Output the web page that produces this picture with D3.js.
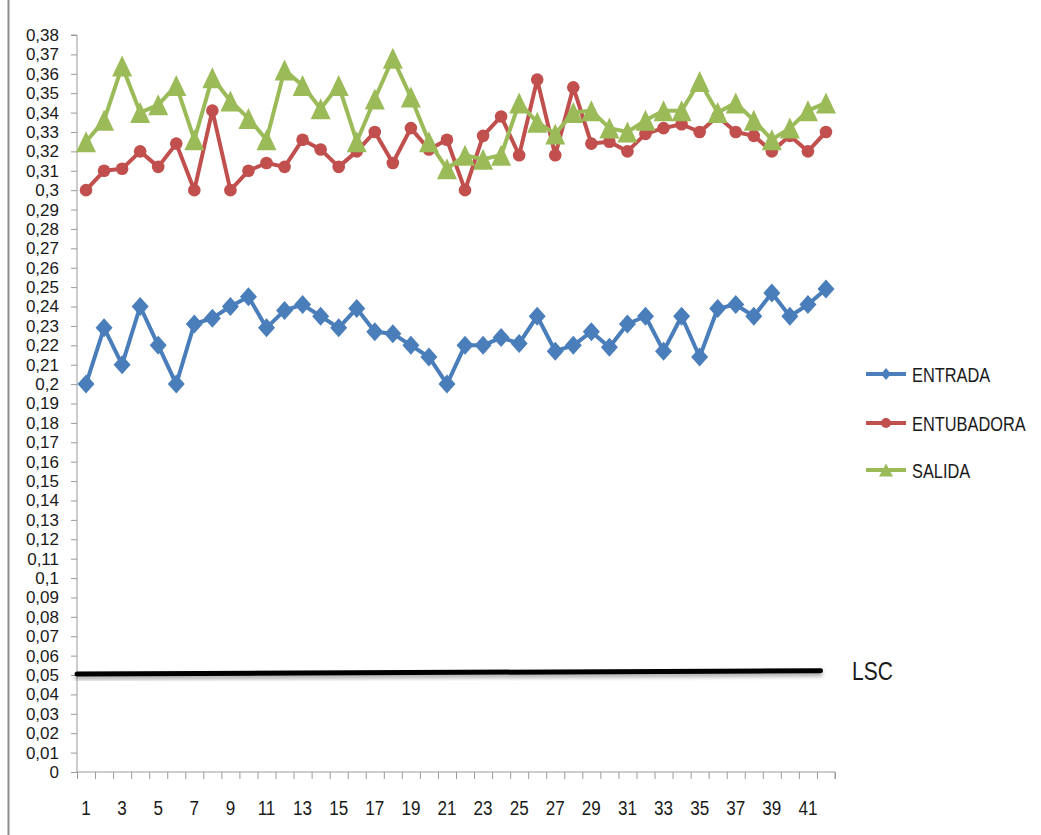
<!DOCTYPE html>
<html>
<head>
<meta charset="utf-8">
<script src="https://cdn.jsdelivr.net/npm/d3@7"></script>
<style>
  html, body { margin: 0; padding: 0; background: #fff; }
  svg { display: block; }
  text { font-family: "Liberation Sans", Arial, sans-serif; fill: #1a1a1a; }
</style>
</head>
<body>
<svg id="chart" width="1041" height="835"></svg>
<script>
// Sample numbers along the x axis
const samples = d3.range(1, 43);

// Measurements per station
const entrada = [0.200, 0.229, 0.210, 0.240, 0.220, 0.200, 0.231, 0.234, 0.240, 0.245,
                 0.229, 0.238, 0.241, 0.235, 0.229, 0.239, 0.227, 0.226, 0.220, 0.214,
                 0.200, 0.220, 0.220, 0.224, 0.221, 0.235, 0.217, 0.220, 0.227, 0.219,
                 0.231, 0.235, 0.217, 0.235, 0.214, 0.239, 0.241, 0.235, 0.247, 0.235,
                 0.241, 0.249];
const entubadora = [0.300, 0.310, 0.311, 0.320, 0.312, 0.324, 0.300, 0.341, 0.300, 0.310,
                    0.314, 0.312, 0.326, 0.321, 0.312, 0.320, 0.330, 0.314, 0.332, 0.321,
                    0.326, 0.300, 0.328, 0.338, 0.318, 0.357, 0.318, 0.353, 0.324, 0.325,
                    0.320, 0.329, 0.332, 0.334, 0.330, 0.338, 0.330, 0.328, 0.320, 0.328,
                    0.320, 0.330];
const salida = [0.325, 0.336, 0.364, 0.340, 0.344, 0.354, 0.326, 0.358, 0.346, 0.337,
                0.326, 0.362, 0.354, 0.342, 0.354, 0.325, 0.347, 0.368, 0.348, 0.325,
                0.311, 0.318, 0.316, 0.318, 0.345, 0.335, 0.329, 0.340, 0.341, 0.332,
                0.330, 0.336, 0.341, 0.341, 0.356, 0.340, 0.345, 0.336, 0.326, 0.332,
                0.341, 0.345];

// Upper control limit (LSC), start and end of the drawn limit line
const lscX = [0.5, 41.7];
const lscY = [0.0505, 0.0522];

// Axis ticks
const yTicks = [0, 0.01, 0.02, 0.03, 0.04, 0.05, 0.06, 0.07, 0.08, 0.09,
                0.1, 0.11, 0.12, 0.13, 0.14, 0.15, 0.16, 0.17, 0.18, 0.19,
                0.2, 0.21, 0.22, 0.23, 0.24, 0.25, 0.26, 0.27, 0.28, 0.29,
                0.3, 0.31, 0.32, 0.33, 0.34, 0.35, 0.36, 0.37, 0.38];
const xLabels = [1, 3, 5, 7, 9, 11, 13, 15, 17, 19, 21, 23, 25, 27, 29, 31, 33, 35, 37, 39, 41];

const seriesNames = ["ENTRADA", "ENTUBADORA", "SALIDA"];
const seriesColors = ["#4a7ebb", "#c0504d", "#9bbb59"];

// Marker shapes: half-width / half-height in px
const diamond = (w, h) => `M0,${-h}L${w},0L0,${h}L${-w},0Z`;
const circle = r => `M${r},0A${r},${r} 0 1,1 ${-r},0A${r},${r} 0 1,1 ${r},0Z`;
const triangle = (w, h) => `M0,${-h}L${w},${h}L${-w},${h}Z`;
const markerPaths = [diamond(8.5, 9.5), circle(6.3), triangle(10, 10.5)];
const legendMarkers = [diamond(5, 6), circle(5), triangle(7, 6.5)];

const svg = d3.select("#chart");

const x = d3.scaleLinear().domain([0.5, 42.5]).range([77, 835]);
const y = d3.scaleLinear().domain([0, 0.38]).range([772, 35]);

const defs = svg.append("defs");
const shadow = defs.append("filter").attr("id", "lscShadow")
  .attr("x", "-5%").attr("y", "-200%").attr("width", "110%").attr("height", "500%");
shadow.append("feGaussianBlur").attr("in", "SourceAlpha").attr("stdDeviation", 2).attr("result", "b");
shadow.append("feOffset").attr("in", "b").attr("dy", 3).attr("result", "o");
shadow.append("feComponentTransfer").attr("in", "o").attr("result", "s")
  .append("feFuncA").attr("type", "linear").attr("slope", 0.35);
const merge = shadow.append("feMerge");
merge.append("feMergeNode").attr("in", "s");
merge.append("feMergeNode").attr("in", "SourceGraphic");

const soft = defs.append("filter").attr("id", "soft");
soft.append("feGaussianBlur").attr("stdDeviation", 0.45);

// Frame on the left side
svg.append("line").attr("x1", 8.5).attr("x2", 8.5).attr("y1", 0).attr("y2", 835)
  .attr("stroke", "#8c8c8c").attr("stroke-width", 2);

// Y axis
const yAxis = svg.append("g").attr("transform", `translate(${x(0.5)},0)`)
  .call(d3.axisLeft(y).tickValues(yTicks).tickSize(6).tickPadding(12)
    .tickFormat(v => String(+v.toFixed(2)).replace(".", ",")));
yAxis.selectAll("text").style("font-size", "17px").attr("fill", "#1a1a1a")
  .style("font-family", "'Liberation Sans', Arial, sans-serif");
yAxis.selectAll("line, path").attr("stroke", "#9a9a9a");
yAxis.select(".domain").attr("d", `M-6,${y(0.38)}H0V${y(0)}`);

// X axis: ticks between categories, labels on odd samples
const xAxis = svg.append("g").attr("transform", `translate(0,${y(0)})`)
  .call(d3.axisBottom(x).tickValues(d3.range(0.5, 43, 1)).tickSize(7).tickFormat(""));
xAxis.selectAll("line, path").attr("stroke", "#9a9a9a");
xAxis.select(".domain").attr("d", `M${x(0.5)},0H${x(42.5)}V7`);

svg.append("g").selectAll("text").data(xLabels).join("text")
  .attr("transform", d => `translate(${x(d)},815) scale(0.9,1.1)`)
  .attr("text-anchor", "middle")
  .style("font-size", "19px")
  .text(d => d);

// LSC line
const lscLine = d3.line().x(d => x(d[0])).y(d => y(d[1]));
svg.append("path")
  .attr("d", lscLine(d3.zip(lscX, lscY)))
  .attr("stroke", "#000").attr("stroke-width", 5).attr("fill", "none")
  .attr("stroke-linecap", "round")
  .attr("filter", "url(#lscShadow)");
svg.append("text")
  .attr("transform", `translate(852,${y(lscY[1]) + 9}) scale(0.84,1)`)
  .style("font-size", "25px").text("LSC");

// Series
const allSeries = [entrada, entubadora, salida];
const line = d3.line().x((d, i) => x(samples[i])).y(d => y(d));
const plot = svg.append("g").attr("filter", "url(#soft)");
allSeries.forEach((vals, k) => {
  const g = plot.append("g");
  g.append("path").attr("d", line(vals))
    .attr("fill", "none").attr("stroke", seriesColors[k]).attr("stroke-width", 4)
    .attr("stroke-linejoin", "round");
  g.selectAll("path.m").data(vals).join("path").attr("class", "m")
    .attr("transform", (d, i) => `translate(${x(samples[i])},${y(d)})`)
    .attr("d", markerPaths[k])
    .attr("fill", seriesColors[k]);
});

// Legend
const legendY = [374, 423, 470];
const legend = svg.append("g");
seriesNames.forEach((name, k) => {
  const g = legend.append("g").attr("transform", `translate(866,${legendY[k]})`);
  g.append("line").attr("x1", 0).attr("x2", 40).attr("y1", 0).attr("y2", 0)
    .attr("stroke", seriesColors[k]).attr("stroke-width", 4);
  g.append("path").attr("transform", "translate(20,0)")
    .attr("d", legendMarkers[k])
    .attr("fill", seriesColors[k]);
  g.append("text").attr("transform", "translate(46,8) scale(0.78,1)")
    .style("font-size", "21px").text(name);
});
</script>
</body>
</html>
